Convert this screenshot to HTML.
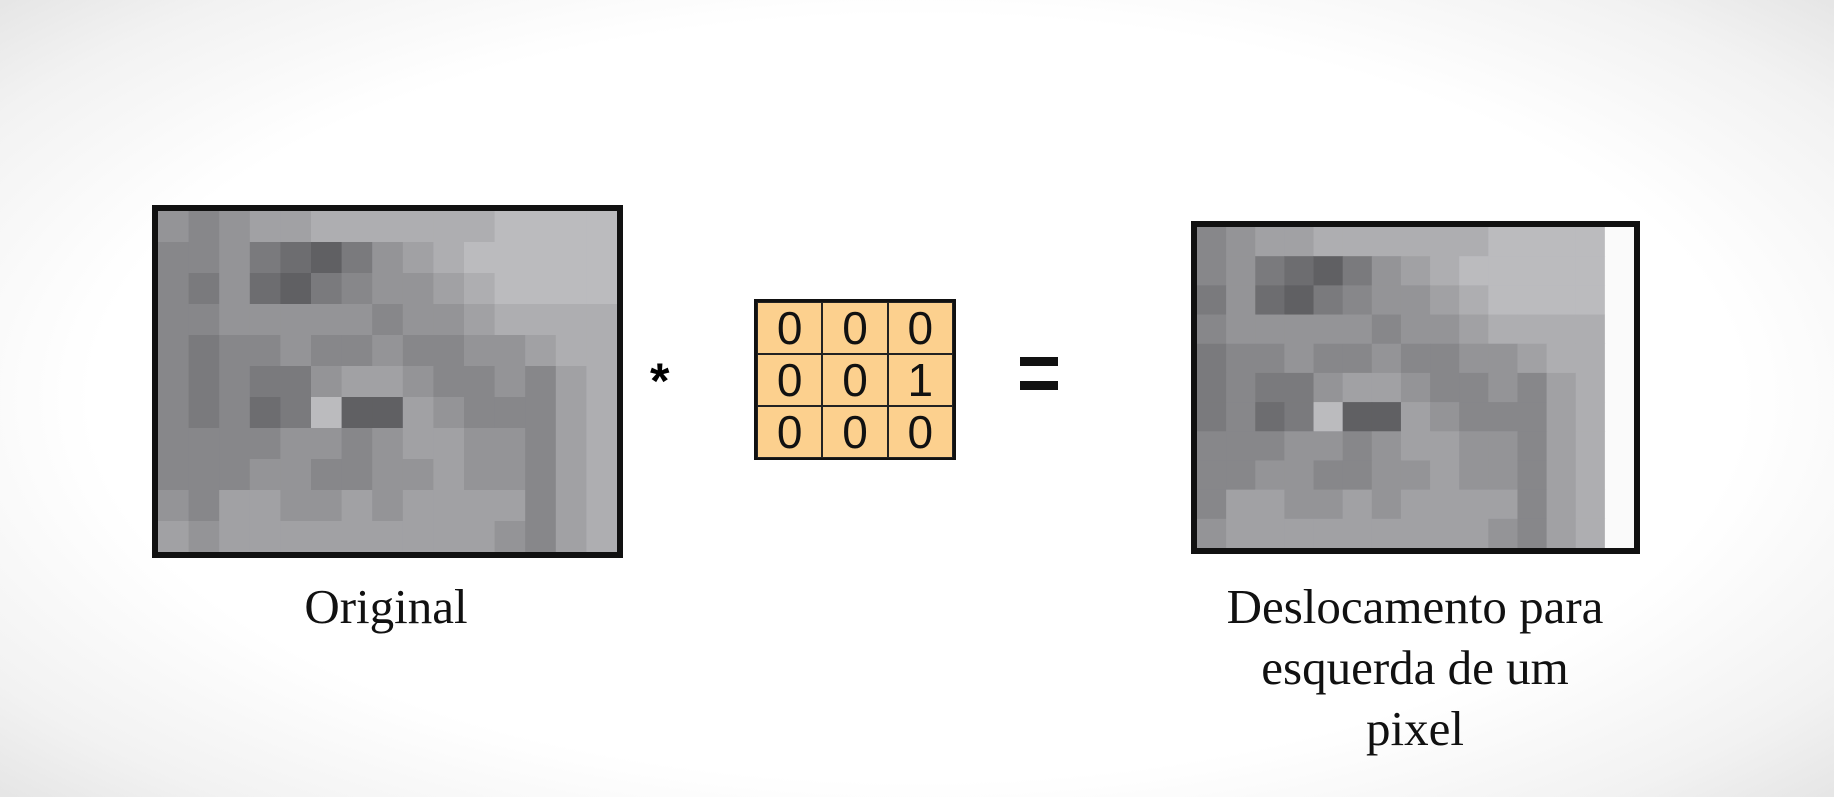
<!DOCTYPE html>
<html><head><meta charset="utf-8"><style>
html,body{margin:0;padding:0}
body{width:1834px;height:797px;position:relative;overflow:hidden;font-family:"Liberation Serif",serif;
background:radial-gradient(ellipse 75% 80% at 50% 50%,#ffffff 60%,#f2f2f2 80%,#dcdcdc 100%);}
.lbl{position:absolute;font-size:49px;color:#111;text-align:center;line-height:61px}
.k{position:absolute;left:754px;top:299px;width:202px;height:161px;border:3px solid #111;box-sizing:border-box;background:#fcd08e;display:grid;grid-template-columns:repeat(3,1fr);grid-template-rows:repeat(3,1fr)}
.k div{border:1px solid #222;font-family:"Liberation Sans",sans-serif;font-size:46px;text-align:center;line-height:50px;color:#111}
</style></head><body>
<svg id="orig" style="position:absolute;left:152px;top:205px" width="471" height="353"></svg>
<div class="lbl" style="left:186px;top:576px;width:400px">Original</div>
<div style="position:absolute;left:650px;top:352px;font-family:'Liberation Sans',sans-serif;font-size:50px;font-weight:bold">*</div>
<div class="k">
<div>0</div><div>0</div><div>0</div><div>0</div><div>0</div><div>1</div><div>0</div><div>0</div><div>0</div></div>
<div style="position:absolute;left:1020px;top:357px;width:38px;height:9px;background:#111"></div>
<div style="position:absolute;left:1020px;top:381px;width:38px;height:9px;background:#111"></div>
<svg id="res" style="position:absolute;left:1191px;top:221px" width="449" height="333"></svg>
<div class="lbl" style="left:1115px;top:576px;width:600px">Deslocamento para<br>esquerda de um<br>pixel</div>
<script>
const rows=[
[6,5,6,7,7,8,8,8,8,8,8,9,9,9,9],
[5,5,6,4,3,2,4,6,7,8,9,9,9,9,9],
[5,4,6,3,2,4,5,6,6,7,8,9,9,9,9],
[5,5,6,6,6,6,6,5,6,6,7,8,8,8,8],
[5,4,5,5,6,5,5,6,5,5,6,6,7,8,8],
[5,4,5,4,4,6,7,7,6,5,5,6,5,7,8],
[5,4,5,3,4,9,2,2,7,6,5,5,5,7,8],
[5,5,5,5,6,6,5,6,7,7,6,6,5,7,8],
[5,5,5,6,6,5,5,6,6,7,6,6,5,7,8],
[6,5,7,7,6,6,7,6,7,7,7,7,5,7,8],
[7,6,7,7,7,7,7,7,7,7,7,6,5,7,8]];
const NS='http://www.w3.org/2000/svg';
function draw(id,W,H,shift){
 const s=document.getElementById(id);const b=6;
 const cw=(W-2*b)/15,ch=(H-2*b)/11;
 for(let r=0;r<11;r++)for(let c=0;c<15;c++){
  const src=c+shift;const rect=document.createElementNS(NS,'rect');
  
  
  rect.setAttribute('x',b+c*cw);rect.setAttribute('y',b+r*ch);
  rect.setAttribute('width',cw+0.5);rect.setAttribute('height',ch+0.5);
  let g=src<15?70+rows[r][src]*13:250;
  rect.setAttribute('fill',src<15?`rgb(${g},${g},${g+3})`:'#fafafa');
  s.appendChild(rect);}
 if(shift){const w=document.createElementNS(NS,'rect');
  
  
  w.setAttribute('x',W-b-12);w.setAttribute('y',b);w.setAttribute('width',12);w.setAttribute('height',H-2*b);w.setAttribute('fill','#fafafa');s.appendChild(w);}
 const f=document.createElementNS(NS,'rect');
 
 
 f.setAttribute('x',b/2);f.setAttribute('y',b/2);f.setAttribute('width',W-b);f.setAttribute('height',H-b);
 f.setAttribute('fill','none');f.setAttribute('stroke','#111');f.setAttribute('stroke-width',b);s.appendChild(f);
}
draw('orig',471,353,0);
draw('res',449,333,1);
</script>
</body></html>
